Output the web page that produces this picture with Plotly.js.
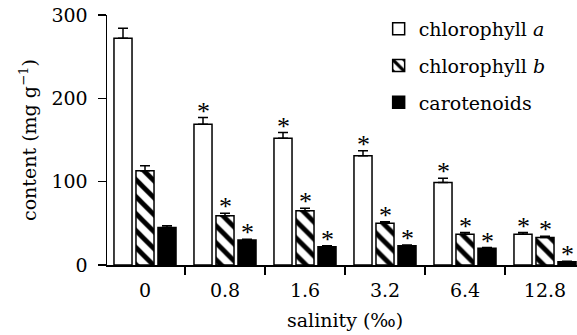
<!DOCTYPE html>
<html>
<head>
<meta charset="utf-8">
<script src="https://cdn.plot.ly/plotly-3.0.1.min.js"></script>
<style>html,body{margin:0;padding:0;background:#fff}#chart{width:577px;height:335px}</style>
</head>
<body>
<div id="chart"></div>
<script>
const salinity = ['0', '0.8', '1.6', '3.2', '6.4', '12.8'];
const chlA = [272, 169, 152, 131, 99, 37];
const chlAErr = [12, 8, 7, 6, 5, 2];
const chlB = [113, 59, 65, 50, 37, 33];
const chlBErr = [6, 3, 3, 2, 2, 1.5];
const carot = [45, 30, 22, 23, 20, 4];
const carotErr = [2, 1, 1, 1, 1, 0.5];
const sigA = [false, true, true, true, true, true];
const sigB = [false, true, true, true, true, true];
const sigC = [false, true, true, true, true, true];
const seriesNames = ['chlorophyll <i>a</i>', 'chlorophyll <i>b</i>', 'carotenoids'];

const FONT = 'DejaVu Serif, Liberation Serif, serif';
const STAR_FONT = 'Liberation Serif, serif';
const FS = 19;

function errSpec(arr) {
  return {type: 'data', symmetric: false, array: arr, arrayminus: arr.map(() => 0),
          color: '#000', thickness: 1.5, width: 5};
}

const traces = [
  {type: 'bar', name: seriesNames[0], x: salinity, y: chlA, error_y: errSpec(chlAErr),
   marker: {color: '#fff', line: {color: '#000', width: 1.5}}, legendgroup: 'a'},
  {type: 'bar', name: seriesNames[1], x: salinity, y: chlB, error_y: errSpec(chlBErr),
   marker: {color: '#fff', line: {color: '#000', width: 1.5},
            pattern: {shape: '\\', fgcolor: '#000', bgcolor: '#fff', size: 12, solidity: 0.4}},
   legendgroup: 'b'},
  {type: 'bar', name: seriesNames[2], x: salinity, y: carot, error_y: errSpec(carotErr),
   marker: {color: '#000', line: {color: '#000', width: 1.5}}, legendgroup: 'c'}
];

const annotations = [];
const sets = [[chlA, chlAErr, sigA, -22], [chlB, chlBErr, sigB, 0], [carot, carotErr, sigC, 22]];
sets.forEach(([vals, errs, sig, shift]) => {
  vals.forEach((v, i) => {
    if (sig[i]) {
      annotations.push({x: i, y: v + errs[i], xref: 'x', yref: 'y', text: '*',
        showarrow: false, xshift: shift, yanchor: 'bottom', yshift: -10,
        font: {family: STAR_FONT, size: 26, color: '#000'}});
    }
  });
});
annotations.push({x: (345 - 107) / 470, xref: 'paper', y: 0, yref: 'paper', text: 'salinity (‰)',
  showarrow: false, yanchor: 'middle', yshift: -55,
  font: {family: FONT, size: FS, color: '#000'}});

const layout = {
  width: 577, height: 335,
  margin: {l: 107, r: 0, t: 15, b: 70},
  paper_bgcolor: '#fff', plot_bgcolor: '#fff',
  font: {family: FONT, size: FS, color: '#000'},
  barmode: 'group', bargap: 0.175, bargroupgap: 0.18,
  showlegend: true,
  legend: {x: 0.578, xanchor: 'left', y: 1.02, yanchor: 'top', tracegroupgap: 9,
           bgcolor: 'rgba(0,0,0,0)', font: {family: FONT, size: FS, color: '#000'}},
  xaxis: {type: 'category', range: [-0.475, 5.4], showline: true, linecolor: '#000', linewidth: 1.5,
          ticks: 'outside', tickson: 'boundaries', ticklen: 8, tickwidth: 1.5, tickcolor: '#000',
          ticklabelstandoff: 8,
          showgrid: false, zeroline: false, tickfont: {family: FONT, size: FS}},
  yaxis: {range: [0, 300], tickvals: [0, 100, 200, 300], showline: true, linecolor: '#000', linewidth: 1.5,
          ticks: 'outside', ticklen: 8, tickwidth: 1.5, tickcolor: '#000', showgrid: false, zeroline: false,
          ticklabelstandoff: 6,
          tickfont: {family: FONT, size: FS},
          title: {text: 'content (mg g<sup>−1</sup>)', font: {family: FONT, size: FS}, standoff: 10}},
  annotations: annotations
};

Plotly.newPlot('chart', traces, layout, {displayModeBar: false, staticPlot: true});
</script>
</body>
</html>
